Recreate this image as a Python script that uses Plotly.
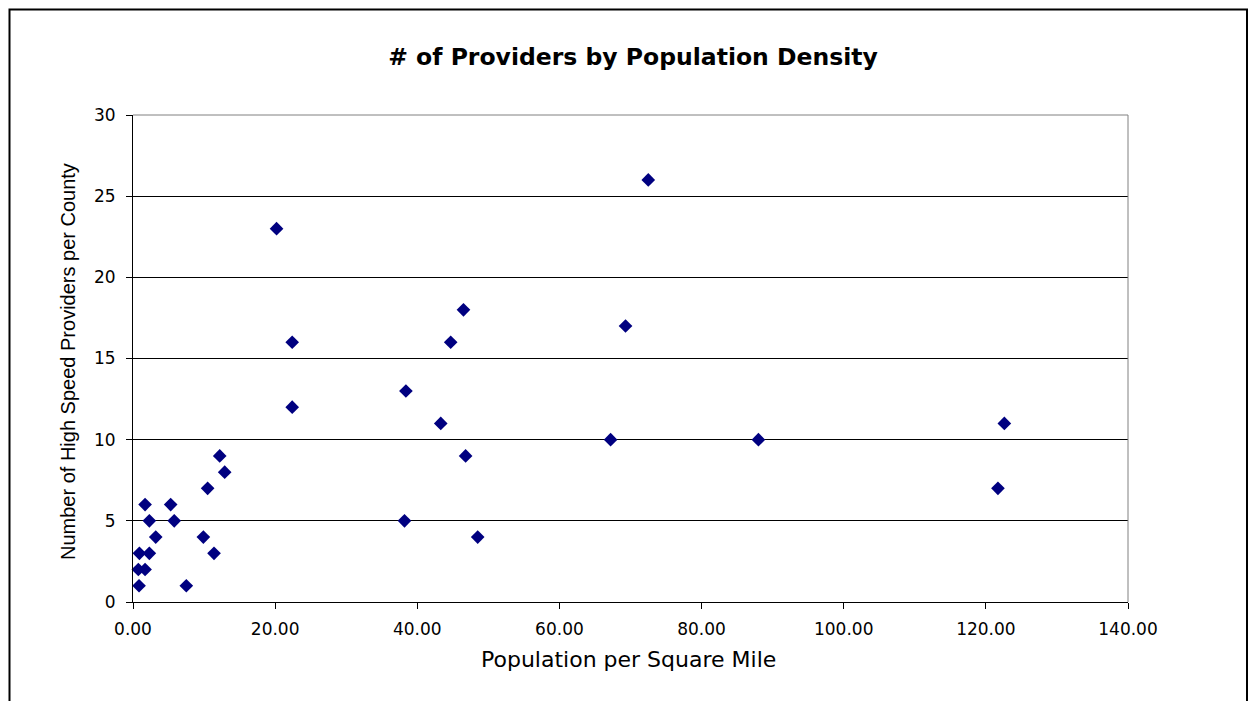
import plotly.graph_objects as go

density = [12.2, 12.9, 10.5, 1.7, 5.3, 2.3, 5.8, 3.2, 9.9, 0.9, 2.3, 11.4, 0.75, 1.7, 0.85, 7.5,
           20.2, 22.4, 22.4, 38.4, 38.2, 43.3, 44.7, 46.5, 46.8, 48.5,
           67.2, 69.3, 72.5, 88.0, 121.7, 122.6]
providers = [9, 8, 7, 6, 6, 5, 5, 4, 4, 3, 3, 3, 2, 2, 1, 1,
             23, 16, 12, 13, 5, 11, 16, 18, 9, 4,
             10, 17, 26, 10, 7, 11]

x_ticks = [0, 20, 40, 60, 80, 100, 120, 140]
x_labels = ["0.00", "20.00", "40.00", "60.00", "80.00", "100.00", "120.00", "140.00"]
y_ticks = [0, 5, 10, 15, 20, 25, 30]

OFF = 8  # page body margin
W, H = 1258 - OFF, 701 - OFF
L, T = 133 - OFF, 115 - OFF
R, B = 1258 - 1128, 701 - 602
pw, ph = W - L - R, H - T - B

HFONT = "DejaVu Sans, Verdana, sans-serif"

fig = go.Figure()
fig.add_trace(go.Scatter(
    x=density, y=providers, mode="markers",
    marker=dict(symbol="diamond", size=10.5, color="#000080", line=dict(width=0)),
    showlegend=False, cliponaxis=False,
))

fig.update_layout(
    width=W, height=H,
    margin=dict(l=L, r=R, t=T, b=B, pad=0),
    paper_bgcolor="white", plot_bgcolor="white",
    font=dict(family=HFONT, color="black", size=17),
    title=dict(text="<b># of Providers by Population Density</b>",
               x=(633 - OFF) / W, xanchor="center", y=1 - (57 - OFF) / H, yanchor="middle",
               font=dict(size=23.5, family=HFONT)),
    xaxis=dict(range=[0, 140], tickvals=x_ticks, ticktext=x_labels,
               showline=True, linecolor="black", linewidth=1,
               ticks="outside", ticklen=6, tickcolor="black",
               ticklabelstandoff=6,
               showgrid=False, zeroline=False, tickfont=dict(size=17)),
    yaxis=dict(range=[0, 30], tickvals=y_ticks,
               showline=True, linecolor="black", linewidth=1,
               ticks="outside", ticklen=6, tickcolor="black",
               ticklabelstandoff=7,
               showgrid=True, gridcolor="black", gridwidth=1, zeroline=False,
               tickfont=dict(size=17)),
    annotations=[
        dict(text="Population per Square Mile", xref="paper", yref="paper",
             x=(628 - 133) / pw, y=(602 - 659) / ph, xanchor="center", yanchor="middle",
             showarrow=False, font=dict(size=22, family=HFONT)),
        dict(text="Number of High Speed Providers per County", xref="paper", yref="paper",
             x=(68 - 133) / pw, y=(602 - 362) / ph, xanchor="center", yanchor="middle",
             textangle=-90, showarrow=False,
             font=dict(size=20, family="Liberation Sans, Arial, sans-serif")),
    ],
)

# plot-area border (top and right)
fig.add_shape(type="line", xref="paper", yref="paper", x0=0, x1=1, y0=1, y1=1,
              line=dict(color="#808080", width=1))
fig.add_shape(type="line", xref="paper", yref="paper", x0=1, x1=1, y0=0, y1=1,
              line=dict(color="#808080", width=1))
# outer chart frame
fig.add_shape(type="rect", xref="paper", yref="paper",
              x0=(9.5 - 133) / pw, x1=(1247 - 133) / pw,
              y0=-0.5, y1=(602 - 9.5) / ph,
              line=dict(color="black", width=2), fillcolor="rgba(0,0,0,0)", layer="below")

fig.write_html("out.html")
